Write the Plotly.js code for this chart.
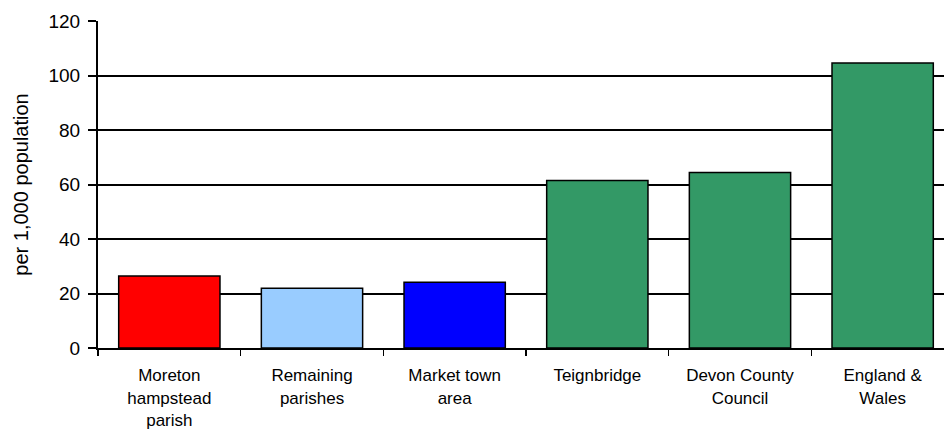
<!DOCTYPE html>
<html><head><meta charset="utf-8">
<script src="https://cdn.plot.ly/plotly-3.0.1.min.js"></script>
<style>html,body{margin:0;padding:0;background:#fff}#chart{width:944px;height:432px}</style>
</head><body><div id="chart"></div>
<script>
const categories = ["Moreton<br>hampstead<br>parish", "Remaining<br>parishes", "Market town<br>area", "Teignbridge", "Devon County<br>Council", "England &<br>Wales"];
const values = [26.4, 21.9, 24.1, 61.5, 64.4, 104.6];
const barColors = ["#FF0000", "#99CCFF", "#0000FF", "#339966", "#339966", "#339966"];
const yTitle = "per 1,000 population";

Plotly.newPlot("chart", [{
  type: "bar",
  x: categories,
  y: values,
  marker: {color: barColors, line: {color: "#000", width: 1.5}},
  width: 0.71,
  hoverinfo: "skip"
}], {
  width: 944, height: 432,
  margin: {l: 98, r: 0, t: 21, b: 84},
  paper_bgcolor: "#fff", plot_bgcolor: "#fff",
  font: {family: "Liberation Sans, Arial, sans-serif", color: "#000"},
  showlegend: false,
  xaxis: {
    range: [-0.5, 5.43],
    tickson: "boundaries",
    ticks: "outside", ticklen: 6, tickwidth: 1.5, tickcolor: "#000",
    showline: true, linecolor: "#000", linewidth: 2,
    showgrid: false,
    tickfont: {size: 17},
    ticklabelstandoff: 11,
    fixedrange: true
  },
  yaxis: {
    range: [0, 120], dtick: 20,
    ticks: "outside", ticklen: 8, tickwidth: 2, tickcolor: "#000",
    showline: true, linecolor: "#000", linewidth: 2,
    showgrid: true, gridcolor: "#000", gridwidth: 2,
    zeroline: false,
    tickfont: {size: 19},
    ticklabelstandoff: 4,
    title: {text: yTitle, font: {size: 20}, standoff: 14},
    fixedrange: true
  }
}, {displayModeBar: false, staticPlot: true});
</script></body></html>
